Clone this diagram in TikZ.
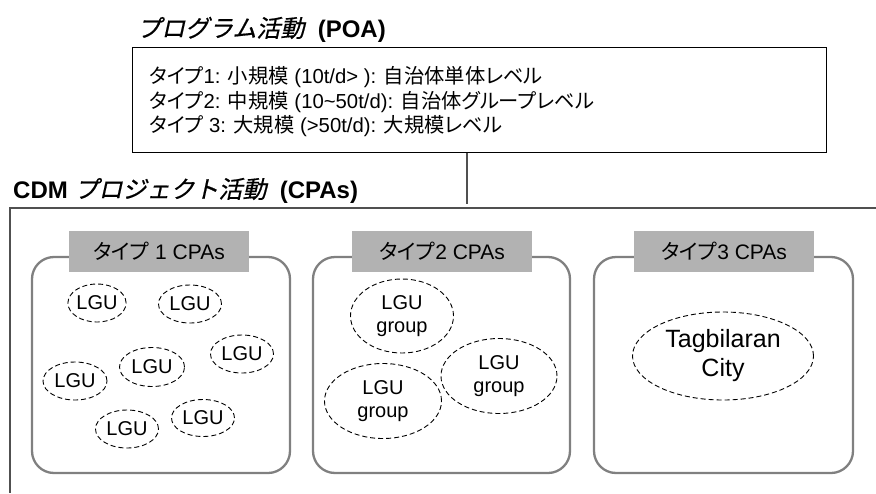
\documentclass[tikz,border=0pt]{standalone}
\usepackage{fontspec}
\setmainfont{Liberation Sans}
\newfontfamily\jp[RawFeature=+palt]{Noto Sans CJK JP}
\newfontfamily\jpit[FakeSlant=0.22,FakeBold=0.6]{Noto Sans CJK JP}
\usetikzlibrary{shapes.geometric}
\definecolor{lblgray}{RGB}{178,178,178}
\definecolor{grpgray}{RGB}{128,128,128}
\definecolor{framegray}{RGB}{80,80,80}
\tikzset{
  titletext/.style={anchor=base west, inner sep=0pt, font=\fontsize{24}{28}\selectfont},
  poabox/.style={draw=black, line width=1pt, inner sep=0pt},
  poaline/.style={anchor=west, inner sep=0pt, font=\fontsize{20.3}{24}\selectfont},
  grpbox/.style={draw=grpgray, line width=2.3pt, rounded corners=22pt, inner sep=0pt},
  lblbox/.style={fill=lblgray, inner sep=0pt, minimum width=180pt, minimum height=41pt, font=\fontsize{21}{24}\selectfont},
  ell/.style={ellipse, draw=black, dashed, dash pattern=on 5pt off 3pt, line width=0.9pt, inner sep=0pt, align=center, font=\fontsize{20}{23}\selectfont},
  framestyle/.style={draw=framegray, line width=1.3pt},
  connstyle/.style={draw=framegray, line width=1.1pt}
}
\begin{document}
\begin{tikzpicture}[x=1pt,y=-1pt]
\useasboundingbox (0,0) rectangle (876,493);
% POA title and box
\node[titletext] (poatitle) at (137,37) {{\jpit プログラム活動}\ \ \textbf{(POA)}};
\node[poabox, minimum width=694pt, minimum height=105pt] (poa) at (479,99.5) {};
\node[poaline] (t1) at (149,77.5) {{\jp タイプ}1: {\jp 小規模} (10t/d> ): {\jp 自治体単体レベル}};
\node[poaline] (t2) at (149,102) {{\jp タイプ}2: {\jp 中規模} (10\textasciitilde 50t/d): {\jp 自治体グループレベル}};
\node[poaline] (t3) at (149,126) {{\jp タイプ} 3: {\jp 大規模} (>50t/d): {\jp 大規模レベル}};
% connector
\coordinate (connend) at (467,204);
\draw[connstyle] (poa.south -| connend) -- (connend);
% CDM frame
\coordinate (fl) at (10,208);
\coordinate (fr) at (876,208);
\coordinate (fb) at (10,493);
\draw[framestyle] (fr) -- (fl) -- (fb);
\node[titletext] (cdmtitle) at (13,198) {\textbf{CDM} {\jpit プロジェクト活動}\ \ \textbf{(CPAs)}};
% group boxes
\node[grpbox, minimum width=258pt, minimum height=216pt] (b1) at (161,365) {};
\node[grpbox, minimum width=257pt, minimum height=216pt] (b2) at (441.5,365) {};
\node[grpbox, minimum width=259pt, minimum height=216pt] (b3) at (723.5,365) {};
\node[lblbox] (l1) at (159,251.5) {{\jp タイプ} 1 CPAs};
\node[lblbox] (l2) at (442,251.5) {{\jp タイプ}2 CPAs};
\node[lblbox] (l3) at (724,251.5) {{\jp タイプ}3 CPAs};
% type 1 LGUs
\node[ell, minimum width=56pt, minimum height=38pt] (g1) at (97,303) {LGU};
\node[ell, minimum width=63pt, minimum height=38pt] (g2) at (190,304) {LGU};
\node[ell, minimum width=63pt, minimum height=38pt] (g3) at (242,354) {LGU};
\node[ell, minimum width=65pt, minimum height=39pt] (g4) at (152,367) {LGU};
\node[ell, minimum width=64pt, minimum height=38pt] (g5) at (75,381) {LGU};
\node[ell, minimum width=63pt, minimum height=38pt] (g6) at (127,429) {LGU};
\node[ell, minimum width=63pt, minimum height=37pt] (g7) at (203,418) {LGU};
% type 2 LGU groups
\node[ell, minimum width=103pt, minimum height=74pt] (h1) at (402,316) {LGU\\group};
\node[ell, minimum width=116pt, minimum height=75pt] (h2) at (499,376) {LGU\\group};
\node[ell, minimum width=117pt, minimum height=75pt] (h3) at (383,401) {LGU\\group};
% type 3
\node[ell, minimum width=181pt, minimum height=88pt, font=\fontsize{25}{29}\selectfont] (c1) at (723,356) {Tagbilaran\\City};
\end{tikzpicture}
\end{document}
